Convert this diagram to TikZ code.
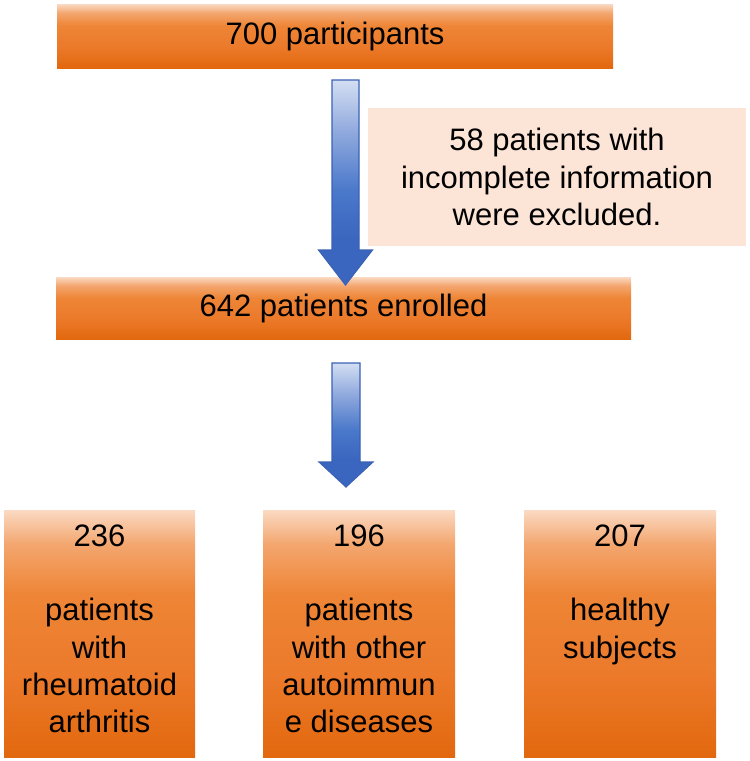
\documentclass[tikz,border=0pt]{standalone}
\usepackage{fontspec}
\setmainfont{Liberation Sans}
\usetikzlibrary{calc}
\definecolor{orL}{HTML}{FBDAC3}
\definecolor{orL2}{HTML}{F3A66E}
\definecolor{orM2}{HTML}{EE8536}
\definecolor{orM}{HTML}{EC7A2B}
\definecolor{orD}{HTML}{E2680E}
\definecolor{peach}{HTML}{FCE4D6}
\definecolor{blT}{HTML}{D3DEF2}
\definecolor{blU}{HTML}{8EA8DD}
\definecolor{blM}{HTML}{4A78CA}
\definecolor{blB}{HTML}{3A66BF}
\definecolor{blEdge}{HTML}{3A62B5}
\pgfdeclareverticalshading{orsh}{100bp}{color(0bp)=(orD); color(25bp)=(orD); color(42bp)=(orM); color(58bp)=(orM2); color(68bp)=(orL2); color(75bp)=(orL); color(100bp)=(orL)}
\pgfdeclareverticalshading{blsh}{100bp}{color(0bp)=(blB); color(25bp)=(blB); color(36bp)=(blB); color(48bp)=(blM); color(62bp)=(blU); color(75bp)=(blT); color(100bp)=(blT)}
\newcommand\talltext[2]{\parbox[c][247pt][t]{190pt}{\centering\vspace*{15pt}#1\\[37pt]#2\par}}
\begin{document}
\begin{tikzpicture}[x=1pt,y=-1pt,
  font=\fontsize{31}{37.3}\selectfont,
  orbox/.style={shade, shading=orsh, draw=none, inner sep=0pt, align=center},
  exclbox/.style={fill=peach, draw=none, inner sep=0pt, align=center,
    minimum width=378pt, minimum height=138pt},
  blockarrow/.style={shade, shading=blsh, draw=blEdge, line width=1.1pt, line join=miter}]
\useasboundingbox (0,0) rectangle (750,761);
% boxes
\node[orbox, minimum width=556pt, minimum height=64pt] (top) at (335,36) {\raisebox{3pt}{700 participants}};
\node[exclbox] (excl) at (557,177) {58 patients with\\incomplete information\\were excluded.};
\node[orbox, minimum width=575pt, minimum height=62pt] (enr) at (343.5,308) {\raisebox{4pt}{642 patients enrolled}};
\node[orbox, minimum width=191pt, minimum height=247pt] (ra) at (99.5,633.5)
  {\talltext{236}{patients\\with\\rheumatoid\\arthritis}};
\node[orbox, minimum width=192pt, minimum height=247pt] (oth) at (359,633.5)
  {\talltext{196}{patients\\with other\\autoimmun\\e diseases}};
\node[orbox, minimum width=192pt, minimum height=247pt] (hs) at (620,633.5)
  {\talltext{207}{healthy\\subjects}};
% block arrows
\coordinate (a1top) at (345.5,80);
\coordinate (a1tip) at (345.5,285);
\coordinate (a2top) at (346,363);
\coordinate (a2tip) at (346,487);
\path[blockarrow] ($(a1top)+(-13.5,0)$) -- ($(a1top)+(13.5,0)$) -- ($(a1tip)+(13.5,-35)$)
  -- ($(a1tip)+(27,-35)$) -- (a1tip) -- ($(a1tip)+(-27,-35)$) -- ($(a1tip)+(-13.5,-35)$) -- cycle;
\path[blockarrow] ($(a2top)+(-14,0)$) -- ($(a2top)+(14,0)$) -- ($(a2tip)+(14,-25)$)
  -- ($(a2tip)+(27,-25)$) -- (a2tip) -- ($(a2tip)+(-27,-25)$) -- ($(a2tip)+(-14,-25)$) -- cycle;
\end{tikzpicture}
\end{document}
